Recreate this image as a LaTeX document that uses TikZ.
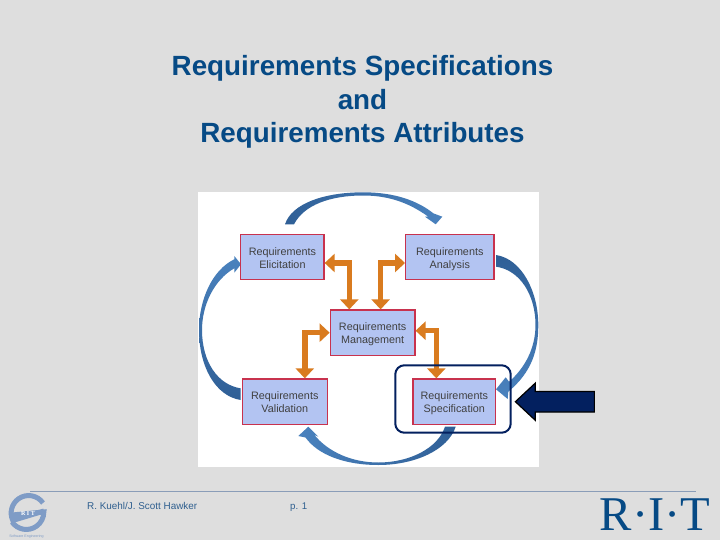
\documentclass[tikz,border=0pt]{standalone}
\usepackage{fontspec}
\setmainfont{Liberation Sans}
\newfontfamily\logofont{Liberation Serif}
\usetikzlibrary{arrows.meta,shapes.arrows}
\definecolor{slidegray}{HTML}{DEDEDE}
\definecolor{titleblue}{HTML}{064A85}
\definecolor{footblue}{HTML}{2F5F8F}
\definecolor{ruleblue}{HTML}{8A9DB8}
\definecolor{logoblue}{HTML}{7F9CC6}
\definecolor{boxblue}{HTML}{B3C4F2}
\definecolor{boxred}{HTML}{C8324E}
\definecolor{cycledark}{HTML}{2F5F96}
\definecolor{cyclelight}{HTML}{4A82BE}
\definecolor{linkorange}{HTML}{D97B1F}
\definecolor{navyblue}{HTML}{03205F}
\newcommand{\reqline}{\rule{0pt}{11.5pt}Requirements}
\tikzset{
  reqbox/.style={draw=boxred,fill=boxblue,line width=1.2pt,align=center,text=black!75,
    font=\fontsize{10.8}{13}\selectfont,inner sep=0pt},
  cycle/.style={draw=none},
  link/.style={draw=linkorange,line width=5.5pt,<->,>={Triangle[length=10pt,width=18pt]}},
  logoband/.style={draw=logoblue,line width=5pt}
}
\begin{document}
\begin{tikzpicture}[x=1pt,y=-1pt]
  \useasboundingbox (0,0) rectangle (720,540);
  \fill [slidegray] (0,0) rectangle (720,540);
  \fill [white] (198,192.3) rectangle (539,467);
  \node [text=titleblue,align=center,font=\fontsize{27.8}{33.5}\selectfont\bfseries] (title) at (362.5,102) {Requirements Specifications\\and\\Requirements Attributes};
  \path [cycle,left color=cycledark,right color=cyclelight] (285,224.3) .. controls (292,203) and (325,192.3) .. (363.3,192.3) .. controls (395,192.3) and (418,201) .. (433.3,213.3) -- (442.3,216.7) -- (435.7,224.3) -- (425,216.7) -- (428,216.5) .. controls (412,205) and (392,195.5) .. (363.3,195.5) .. controls (330,195.5) and (304,205) .. (294,224.3) -- cycle;
  \path [cycle,top color=cycledark,bottom color=cyclelight] (496,255) .. controls (522,259) and (538.3,292) .. (538.3,325) .. controls (538.3,350) and (532,372) .. (508.3,391.7) -- (507.7,399) -- (496,389.3) -- (505.7,377.3) -- (509,381.7) .. controls (525,368) and (535.5,348) .. (535.5,325) .. controls (535.5,295) and (520,270) .. (496,266.7) -- cycle;
  \path [cycle,bottom color=cycledark,top color=cyclelight] (240.7,400) .. controls (215,396) and (199,366) .. (199,330) .. controls (199,300) and (212,270) .. (234.3,259.3) -- (234.3,256) -- (241,264.3) -- (234.3,272.7) -- (234.3,268.3) .. controls (214,280) and (202,305) .. (202,330) .. controls (202,362) and (218,385) .. (240.7,388.3) -- cycle;
  \path [cycle,right color=cycledark,left color=cyclelight] (455.7,426.7) .. controls (448,450) and (415,465) .. (378.3,465) .. controls (345,465) and (318,455) .. (305.5,437.5) -- (298.3,436) -- (308.3,426.7) -- (318.3,436.7) -- (314,434.5) .. controls (328,452) and (352,462.5) .. (378.3,462.5) .. controls (410,462.5) and (438,448) .. (445,426.7) -- cycle;
  \node [reqbox,minimum width=83.3pt,minimum height=45.4pt] (elicit) at (282.4,257) {\reqline\\Elicitation\vphantom{g}};
  \node [reqbox,minimum width=88.3pt,minimum height=45.4pt] (analysis) at (449.8,257) {\reqline\\Analysis\vphantom{g}};
  \node [reqbox,minimum width=84.7pt,minimum height=45.4pt] (manage) at (372.6,332.7) {\reqline\\Management};
  \node [reqbox,minimum width=85pt,minimum height=45.7pt] (validate) at (284.8,401.8) {\reqline\\Validation\vphantom{g}};
  \node [reqbox,minimum width=82.7pt,minimum height=45.7pt] (spec) at (454.3,401.8) {\reqline\\Specification\vphantom{g}};
  \draw [link] ([yshift=-6pt]elicit.east) -| ([xshift=-23.3pt]manage.north);
  \draw [link] ([yshift=-6pt]analysis.west) -| ([xshift=8pt]manage.north);
  \draw [link] (manage.west) -| ([xshift=20pt]validate.north);
  \draw [link] ([yshift=2pt]manage.east) -| ([xshift=-18pt]spec.north);
  \node [draw=navyblue,line width=2pt,rounded corners=9pt,minimum width=115.4pt,minimum height=67.4pt] (focus) at (453,399) {};
  \node [single arrow,shape border rotate=180,draw=black,fill=navyblue,line width=1.2pt,inner sep=0pt,text height=19.4pt,text depth=0pt,minimum height=79pt,minimum width=36pt,single arrow head extend=8.3pt,single arrow tip angle=86] (pointer) at (560.4,401.7) {};
  \draw [ruleblue,line width=1.5pt] (30,491.7) -- (696,491.7);
  \node [text=footblue,font=\fontsize{9.9}{12}\selectfont,anchor=west,inner sep=0pt] (authors) at (87,505.5) {R. Kuehl/J. Scott Hawker};
  \node [text=footblue,font=\fontsize{9.7}{12}\selectfont,anchor=west,inner sep=0pt] (page) at (290,507) {p. 1};
  \node [text=titleblue,font=\logofont\fontsize{48.5}{50}\selectfont,anchor=base west,inner sep=0pt] (ritmark) at (599.5,530.7) {R·I·T};
  \draw [logoband] (43,503) arc (-35:-205:17.5) -- (44,511);
  \draw [logoband] (12,522) arc (145:0:17.5) -- (12,515);
  \node [text=white,font=\logofont\fontsize{6}{6}\selectfont\bfseries,inner sep=0pt] (logotext) at (28,514) {R I T};
  \node [text=logoblue,font=\fontsize{3.6}{4}\selectfont,inner sep=0pt] (logocap) at (26.5,537) {Software Engineering};
\end{tikzpicture}
\end{document}
